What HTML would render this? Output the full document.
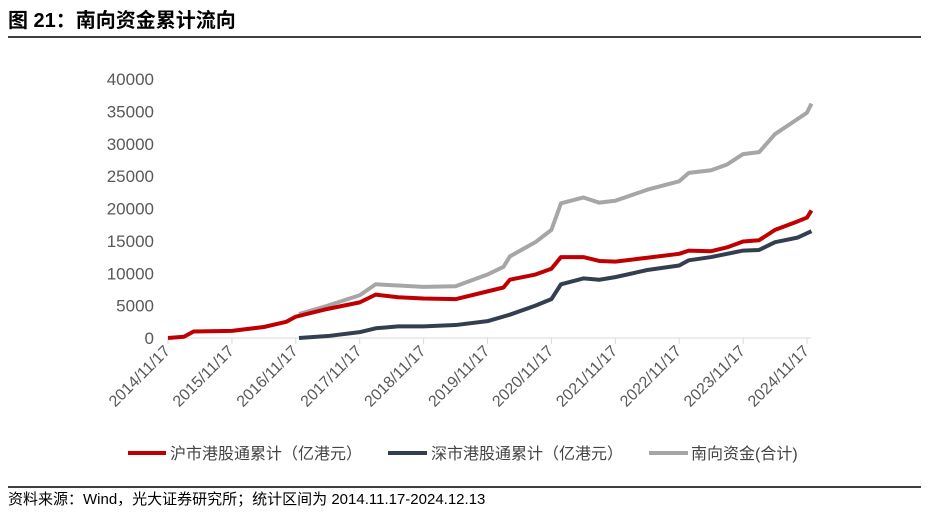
<!DOCTYPE html>
<html><head><meta charset="utf-8"><style>
body{margin:0;background:#fff;width:930px;height:515px;overflow:hidden;font-family:"Liberation Sans","Noto Sans CJK SC",sans-serif;}
</style></head><body>
<svg width="930" height="515" style="position:absolute;left:0;top:0">
<text x="8" y="27" font-size="20" font-weight="bold" fill="#000" font-family="Liberation Sans,Noto Sans CJK SC,sans-serif">图 21：南向资金累计流向</text>
<line x1="8" y1="37" x2="921" y2="37" stroke="#000" stroke-width="1.5"/>
<g id="axes"></g>
<g id="series"></g>
<g font-size="16" fill="#444" font-family="Liberation Sans,Noto Sans CJK SC,sans-serif">
<line x1="128" y1="453" x2="166" y2="453" stroke="#c00000" stroke-width="4"/>
<text x="170" y="459">沪市港股通累计（亿港元）</text>
<line x1="388" y1="453" x2="427" y2="453" stroke="#333f50" stroke-width="4"/>
<text x="431" y="459">深市港股通累计（亿港元）</text>
<line x1="649" y1="453" x2="688" y2="453" stroke="#a6a6a6" stroke-width="4"/>
<text x="691" y="459">南向资金(合计)</text>
</g>
<line x1="8" y1="487" x2="921" y2="487" stroke="#000" stroke-width="1.5"/>
<text x="8" y="504" font-size="15" fill="#000" font-family="Liberation Sans,Noto Sans CJK SC,sans-serif">资料来源：Wind，光大证券研究所；统计区间为 2014.11.17-2024.12.13</text>
</svg>
<script>
const yTicks=[0,5000,10000,15000,20000,25000,30000,35000,40000];
const xTickLabels=["2014/11/17","2015/11/17","2016/11/17","2017/11/17","2018/11/17","2019/11/17","2020/11/17","2021/11/17","2022/11/17","2023/11/17","2024/11/17"];
const shT=[0,0.25,0.4,1,1.5,1.85,2,2.5,3,3.25,3.6,4,4.5,5,5.25,5.35,5.75,6,6.15,6.5,6.75,7,7.5,8,8.15,8.5,8.75,9,9.25,9.5,9.85,10,10.07];
const shV=[0,200,1000,1100,1700,2500,3300,4500,5500,6700,6300,6100,6000,7200,7800,9000,9800,10700,12500,12500,11900,11800,12400,13000,13500,13400,14000,14900,15100,16700,18000,18600,19700];
const szT=[2.05,2.5,3,3.25,3.6,4,4.5,5,5.35,5.75,6,6.15,6.5,6.75,7,7.5,8,8.15,8.5,9,9.25,9.5,9.85,10.07];
const szV=[0,300,900,1500,1800,1800,2000,2600,3600,5000,6000,8300,9200,9000,9400,10500,11200,12000,12500,13500,13600,14800,15500,16500];
const totT=[2.05,2.5,3,3.25,3.6,4,4.5,5,5.25,5.35,5.75,6,6.15,6.5,6.75,7,7.5,8,8.15,8.5,8.75,9,9.25,9.5,9.85,10,10.07];
const totV=[3700,5000,6600,8300,8100,7900,8000,9800,11000,12600,14800,16700,20800,21700,20900,21200,22900,24200,25500,25900,26800,28400,28700,31500,33800,34800,36200];
const NS='http://www.w3.org/2000/svg';
const X=t=>168+t*63.9, Y=v=>338-v*0.006475;
const axes=document.getElementById('axes'), ser=document.getElementById('series');
function mk(tag,attrs,parent){const e=document.createElementNS(NS,tag);for(const k in attrs)e.setAttribute(k,attrs[k]);parent.appendChild(e);return e;}
yTicks.forEach(v=>{const t=mk('text',{x:154,y:Y(v)+6,'text-anchor':'end','font-size':17,fill:'#595959'},axes);t.textContent=v;

});
const ax=mk('line',{x1:168,y1:338,x2:811,y2:338,stroke:'#d9d9d9','stroke-width':1},axes);


xTickLabels.forEach((l,i)=>{const x=X(i);const tk=mk('line',{x1:x,y1:338,x2:x,y2:344,stroke:'#d9d9d9'},axes);


const t=mk('text',{x:x+3,y:352,'text-anchor':'end','font-size':16,fill:'#595959',transform:`rotate(-45 ${x+3} 352)`},axes);t.textContent=l;

});
function line(T,V,c,name){const p=mk('polyline',{points:T.map((t,i)=>X(t)+','+Y(V[i])).join(' '),fill:'none',stroke:c,'stroke-width':4,'stroke-linejoin':'round'},ser);

}
line(totT,totV,'#a6a6a6','series-total');
line(shT,shV,'#c00000','series-sh');
line(szT,szV,'#333f50','series-sz');
</script>
</body></html>
